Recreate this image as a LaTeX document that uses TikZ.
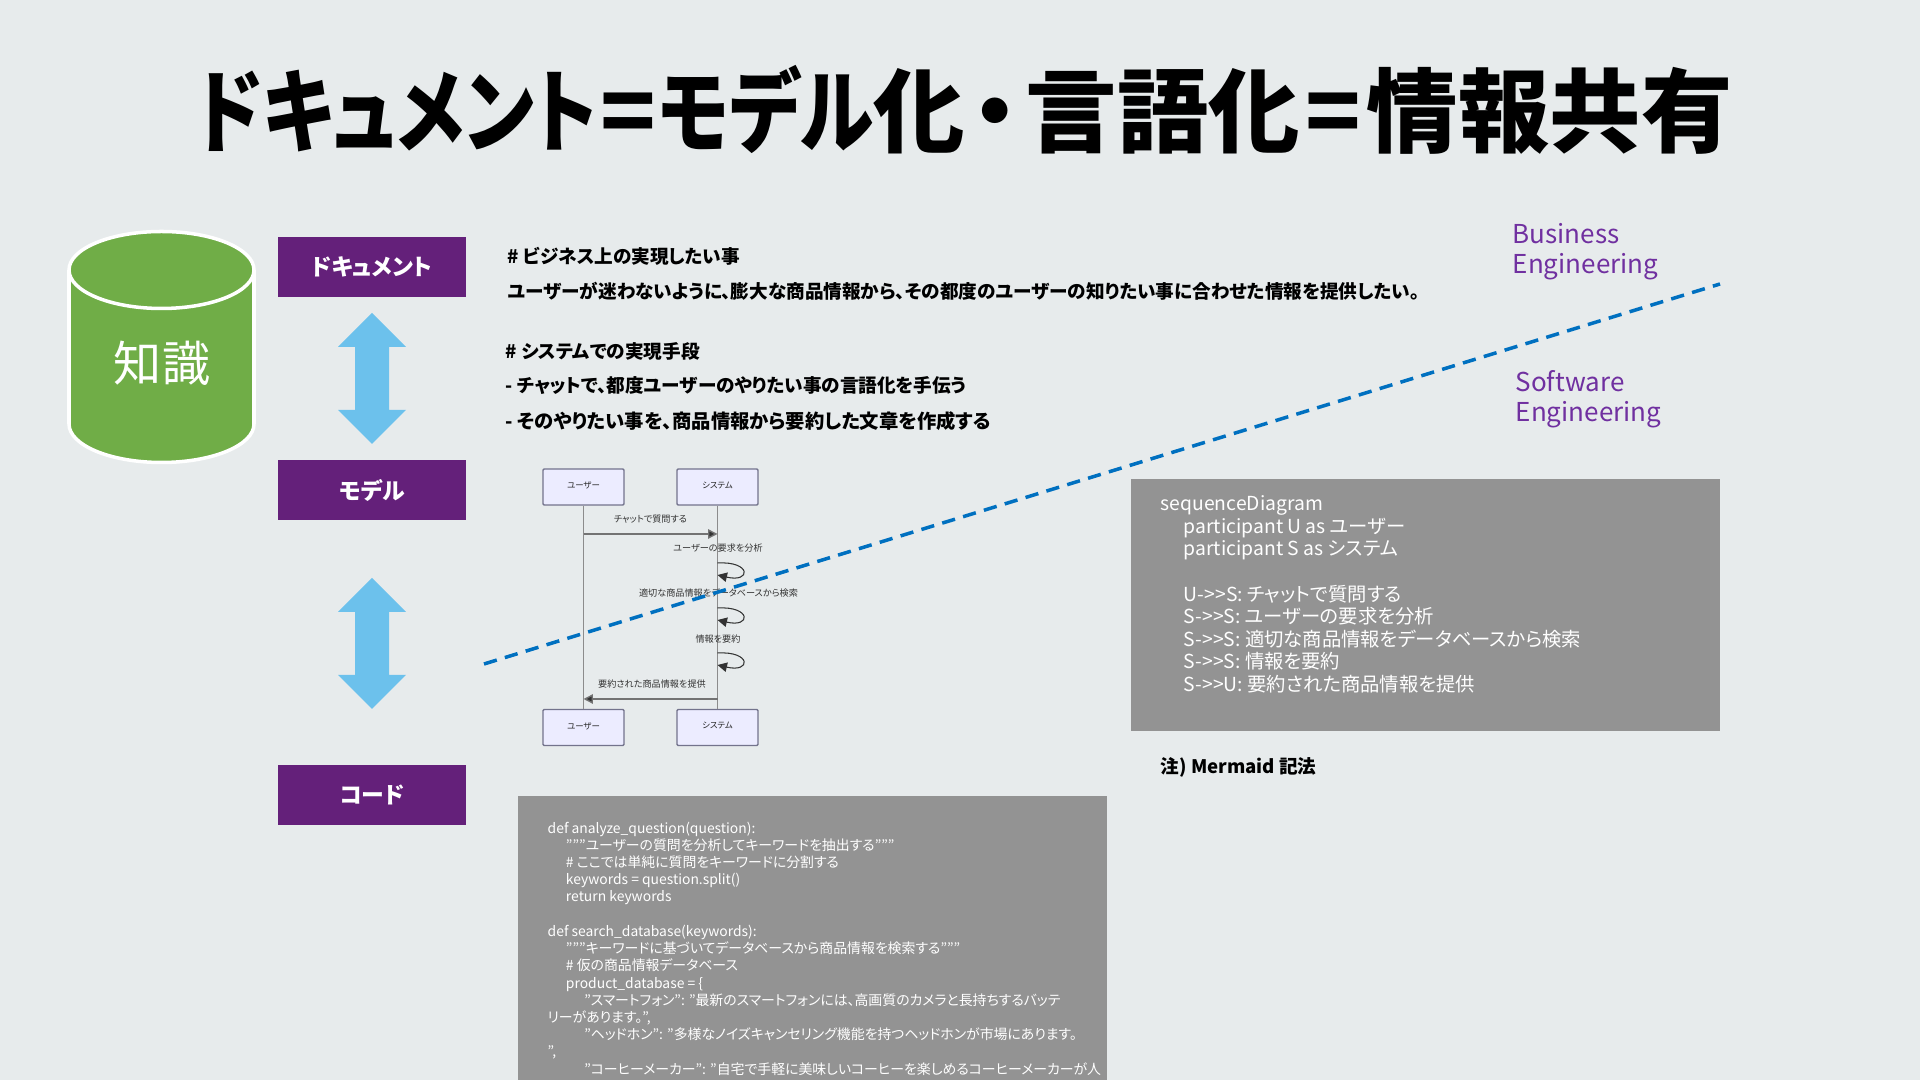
\documentclass[tikz,border=0pt]{standalone}
\usepackage{fontspec}
\usepackage{graphicx}
\usepackage{tikz}
\usetikzlibrary{arrows.meta}
\setmainfont{Noto Sans CJK JP}[RawFeature=+palt]
\definecolor{bgpage}{RGB}{231, 235, 236}
\definecolor{purplebox}{RGB}{100, 32, 122}
\definecolor{greendb}{RGB}{112, 173, 71}
\definecolor{bluearrow}{RGB}{108, 193, 236}
\definecolor{bluedash}{RGB}{0, 112, 192}
\definecolor{greybox}{RGB}{147, 147, 147}
\definecolor{violettext}{RGB}{112, 48, 160}
\definecolor{actorfill}{RGB}{236, 236, 255}
\tikzset{
  layerbox/.style={fill=purplebox, text=white, minimum width=1.88cm, minimum height=0.60cm, inner sep=0pt, font=\bfseries\fontsize{6.5}{8}\selectfont},
  bodytext/.style={anchor=west, inner sep=0pt, font=\bfseries\fontsize{5.3}{6}\selectfont},
  sidelabel/.style={anchor=north west, inner sep=0pt, align=left, text=violettext, font=\fontsize{7.4}{8.5}\selectfont},
  actorbox/.style={draw=gray!90!blue, rounded corners=0.3pt, line width=0.4pt, fill=actorfill, minimum width=0.81cm, minimum height=0.36cm, inner sep=0pt, text=black!85, font=\fontsize{2.4}{3}\selectfont},
  msglabel/.style={inner sep=0pt, text=black!80, font=\fontsize{2.6}{3}\selectfont},
  msgline/.style={line width=0.4pt, draw=black!55, -{Triangle[length=2.7pt,width=2.7pt,fill=black!80]}},
  loopline/.style={line width=0.3pt, draw=black!80, -{Triangle[length=2.7pt,width=2.7pt,fill=black!80]}},
  greytext/.style={anchor=north west, inner sep=0pt, align=left, text=white}
}
\begin{document}
\begin{tikzpicture}[x=1cm,y=1cm]
\useasboundingbox (0,0) rectangle (19.2,10.8);
\clip (0,0) rectangle (19.2,10.8);
\fill[bgpage] (0,0) rectangle (19.2,10.8);
% Title
\node[inner sep=0pt, font=\bfseries\fontsize{26}{30}\selectfont] (title) at (9.64,9.70) {\scalebox{0.83}[1]{ドキュメント}\hspace{0.8pt}=\hspace{0.8pt}\scalebox{0.82}[1]{モデル}化\hspace{2.2pt}・\hspace{2.2pt}言語化\hspace{1.6pt}=\hspace{1.6pt}情報共有};
% Knowledge cylinder
\draw[line width=1pt, draw=white, fill=greendb] (0.69,8.10) -- (0.69,6.56) arc[start angle=180, end angle=360, x radius=0.925, y radius=0.385] -- (2.54,8.10) arc[start angle=0, end angle=180, x radius=0.925, y radius=0.385] -- cycle;
\draw[line width=1pt, draw=white] (0.69,8.10) arc[start angle=180, end angle=360, x radius=0.925, y radius=0.385];
\node[text=white, inner sep=0pt, font=\fontsize{13.7}{15}\selectfont] (knowledge) at (1.62,7.17) {知識};
% Layers
\node[layerbox] (doc) at (3.72,8.13) {ドキュメント};
\node[layerbox] (model) at (3.72,5.90) {モデル};
\node[layerbox] (code) at (3.72,2.85) {コード};
% Double arrows
\fill[bluearrow] (3.72,7.67) -- (4.06,7.33) -- (3.89,7.33) -- (3.89,6.70) -- (4.06,6.70) -- (3.72,6.36) -- (3.38,6.70) -- (3.55,6.70) -- (3.55,7.33) -- (3.38,7.33) -- cycle;
\fill[bluearrow] (3.72,5.02) -- (4.06,4.68) -- (3.89,4.68) -- (3.89,4.05) -- (4.06,4.05) -- (3.72,3.71) -- (3.38,4.05) -- (3.55,4.05) -- (3.55,4.68) -- (3.38,4.68) -- cycle;
% Requirement text
\node[bodytext] (goalhead) at (5.07,8.24) {\# ビジネス上の実現したい事};
\node[bodytext] (goalbody) at (5.07,7.89) {ユーザーが迷わないように、膨大な商品情報から、その都度のユーザーの知りたい事に合わせた情報を提供したい。};
\node[bodytext] (meanshead) at (5.05,7.29) {\# システムでの実現手段};
\node[bodytext] (meansone) at (5.05,6.94) {- チャットで、都度ユーザーのやりたい事の言語化を手伝う};
\node[bodytext, font=\bfseries\fontsize{5.5}{6}\selectfont] (meanstwo) at (5.05,6.59) {- そのやりたい事を、商品情報から要約した文章を作成する};
% Sequence diagram
\node[actorbox] (usertop) at (5.835,5.93) {\raisebox{1pt}{ユーザー}};
\node[actorbox] (systop) at (7.175,5.93) {\raisebox{1pt}{システム}};
\node[actorbox] (userbot) at (5.835,3.525) {\raisebox{1pt}{ユーザー}};
\node[actorbox] (sysbot) at (7.175,3.525) {\raisebox{1pt}{システム}};
\draw[line width=0.4pt, draw=black!45] (usertop) -- (userbot);
\draw[line width=0.4pt, draw=black!45] (systop) -- (sysbot);
\coordinate (askfrom) at (5.835,5.46);
\coordinate (askto) at (7.175,5.46);
\coordinate (replyfrom) at (7.175,3.81);
\coordinate (replyto) at (5.835,3.81);
\draw[msgline] (askfrom) -- (askto);
\draw[msgline] (replyfrom) -- (replyto);
\foreach \y/\name in {5.17/a, 4.72/b, 4.27/c}{
  \coordinate (loop\name from) at (7.175,\y);
  \coordinate (loop\name to) at (7.175,\y-0.12);
  \draw[loopline] (loop\name from) .. controls +(0.34,0.02) and +(0.34,-0.08) .. (loop\name to);
}
\node[msglabel] (msgone) at (6.505,5.61) {チャットで質問する};
\node[msglabel] (msgtwo) at (7.18,5.32) {ユーザーの要求を分析};
\node[msglabel] (msgthree) at (7.185,4.87) {適切な商品情報をデータベースから検索};
\node[msglabel] (msgfour) at (7.18,4.41) {情報を要約};
\node[msglabel] (msgfive) at (6.52,3.96) {要約された商品情報を提供};
% Border between business and software
\coordinate (borderleft) at (4.84,4.16);
\coordinate (borderright) at (17.20,7.96);
\draw[line width=1pt, draw=bluedash, dash pattern=on 3.8pt off 2.4pt] (borderleft) -- (borderright);
\node[sidelabel] (business) at (15.12,8.57) {Business\\Engineering};
\node[sidelabel] (software) at (15.15,7.10) {Software\\Engineering};
% Mermaid box
\fill[greybox] (11.31,3.49) rectangle (17.20,6.01);
\node[greytext, font=\fontsize{5.5}{6.43}\selectfont] (mermaid) at (11.60,5.85) {sequenceDiagram\\
\hspace*{6.6pt}participant U as ユーザー\\
\hspace*{6.6pt}participant S as システム\\
\mbox{}\\
\hspace*{6.6pt}U->{}>S: チャットで質問する\\
\hspace*{6.6pt}S->{}>S: ユーザーの要求を分析\\
\hspace*{6.6pt}S->{}>S: 適切な商品情報をデータベースから検索\\
\hspace*{6.6pt}S->{}>S: 情報を要約\\
\hspace*{6.6pt}S->{}>U: 要約された商品情報を提供};
\node[bodytext] (mermaidnote) at (11.60,3.13) {注) Mermaid 記法};
% Code box
\fill[greybox] (5.18,0) rectangle (11.07,2.84);
\node[greytext, font=\fontsize{3.95}{4.9}\selectfont] (pycode) at (5.47,2.59) {def analyze\_question(question):\\
\hspace*{5.2pt}"{}"{}"ユーザーの質問を分析してキーワードを抽出する"{}"{}"\\
\hspace*{5.2pt}\# ここでは単純に質問をキーワードに分割する\\
\hspace*{5.2pt}keywords = question.split()\\
\hspace*{5.2pt}return keywords\\
\mbox{}\\
def search\_database(keywords):\\
\hspace*{5.2pt}"{}"{}"キーワードに基づいてデータベースから商品情報を検索する"{}"{}"\\
\hspace*{5.2pt}\# 仮の商品情報データベース\\
\hspace*{5.2pt}product\_database = \{\\
\hspace*{10.4pt}"スマートフォン": "最新のスマートフォンには、高画質のカメラと長持ちするバッテ\\
リーがあります。",\\
\hspace*{10.4pt}"ヘッドホン": "多様なノイズキャンセリング機能を持つヘッドホンが市場にあります。\\
",\\
\hspace*{10.4pt}"コーヒーメーカー": "自宅で手軽に美味しいコーヒーを楽しめるコーヒーメーカーが人};
\end{tikzpicture}
\end{document}
